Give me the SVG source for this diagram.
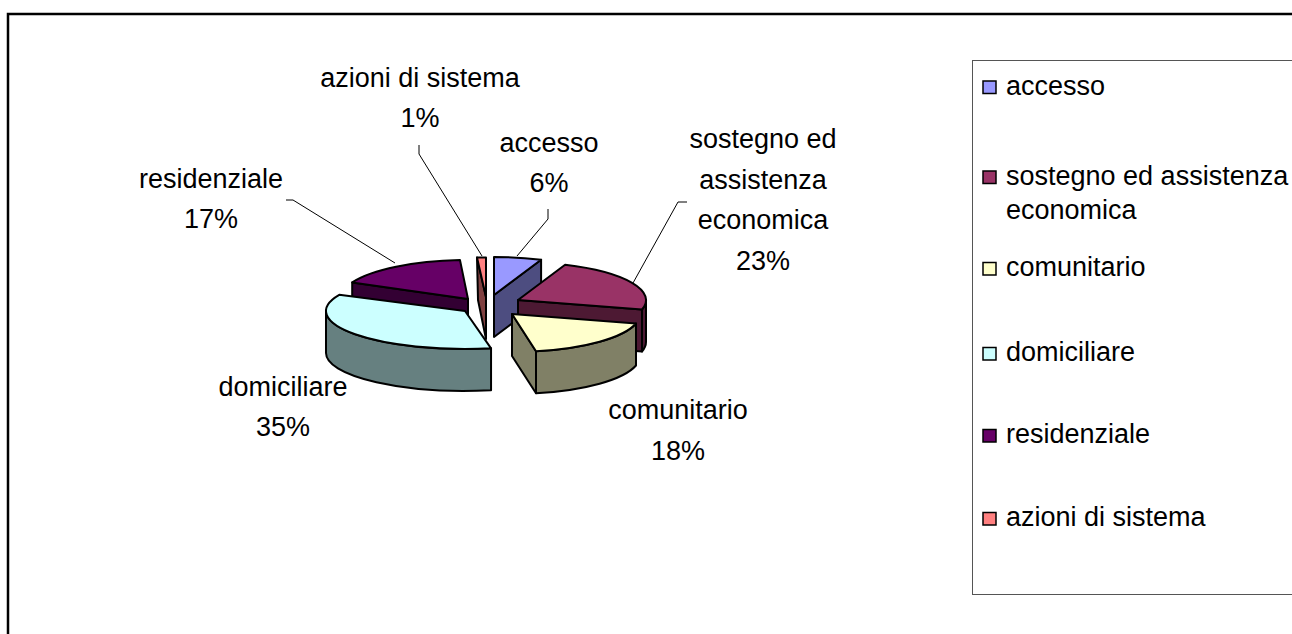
<svg xmlns="http://www.w3.org/2000/svg" width="1292" height="634" viewBox="0 0 1292 634">
<style>
text{font-family:"Liberation Sans",Arial,sans-serif;font-size:27px;fill:#000}
.lbl{text-anchor:middle}
.pie path{stroke:#000;stroke-width:2;stroke-linejoin:round}
.lead{fill:none;stroke:#000;stroke-width:1}
.sw{stroke:#000;stroke-width:1.5}
</style>
<rect width="1292" height="634" fill="#fff"/>
<rect x="8" y="14" width="1300" height="700" fill="#fff" stroke="#000" stroke-width="2.5"/>

<g class="pie">
  <g id="slice-residenziale">
    <path d="M468,299 L352.2,282.4 L352.2,324.4 L468,341 Z" fill="#330033"/>
    <path d="M468,299 L352.2,282.4 A128,39 0 0 1 460,260.1 Z" fill="#660066"/>
  </g>
  <g id="slice-azioni">
    <path d="M486,297 L477,257.5 L478,300 L486,339 Z" fill="#804040"/>
    <path d="M486,297 L477,257.5 L486,257.5 Z" fill="#FF8080"/>
  </g>
  <g id="slice-accesso">
    <path d="M494,295 L541.1,259.7 L541.1,301.7 L494,337 Z" fill="#4D4D80"/>
    <path d="M494,295 L494,257 A128,38 0 0 1 541.1,259.7 Z" fill="#9999FF"/>
  </g>
  <g id="slice-sostegno">
    <path d="M518,300 L642,309.5 L642,351.5 L518,342 Z" fill="#4D1933"/>
    <path d="M646,300 A128,38 0 0 1 642,309.5 L642,351.5 A128,38 0 0 0 646,342 Z" fill="#4D1933"/>
    <path d="M518,300 L565.1,264.7 A128,38 0 0 1 642,309.5 Z" fill="#993366"/>
  </g>
  <g id="slice-domiciliare">
    <path d="M491.05,348.33 A139,38 0 0 1 326,311 L326,353 A139,38 0 0 0 491.05,390.33 Z" fill="#668080"/>
    <path d="M465,311 L491.05,348.33 A139,38 0 0 1 339.23,294.82 Z" fill="#CCFFFF"/>
  </g>
  <g id="slice-comunitario">
    <path d="M512,314 L536,351.3 L536,393.3 L512,356 Z" fill="#808066"/>
    <path d="M636,323.5 A128,38 0 0 1 536,351.3 L536,393.3 A128,38 0 0 0 636,365.5 Z" fill="#808066"/>
    <path d="M512,314 L636,323.5 A128,38 0 0 1 536,351.3 Z" fill="#FFFFCC"/>
  </g>
</g>

<g id="connectors">
  <polyline class="lead" points="286,200 293,200 395,263"/>
  <polyline class="lead" points="419,145 419,154 482,256"/>
  <polyline class="lead" points="548,209 548,219 517,256"/>
  <polyline class="lead" points="687,202 678,202 633,283"/>
</g>

<g id="label-azioni"><text class="lbl" x="420" y="87">azioni di sistema</text><text class="lbl" x="420" y="127">1%</text></g>
<g id="label-accesso"><text class="lbl" x="549" y="152">accesso</text><text class="lbl" x="549" y="192">6%</text></g>
<g id="label-residenziale"><text class="lbl" x="211" y="188">residenziale</text><text class="lbl" x="211" y="228">17%</text></g>
<g id="label-sostegno"><text class="lbl" x="763" y="148">sostegno ed</text><text class="lbl" x="763" y="188.5">assistenza</text><text class="lbl" x="763" y="229">economica</text><text class="lbl" x="763" y="269.5">23%</text></g>
<g id="label-comunitario"><text class="lbl" x="678" y="419">comunitario</text><text class="lbl" x="678" y="459.5">18%</text></g>
<g id="label-domiciliare"><text class="lbl" x="283" y="396">domiciliare</text><text class="lbl" x="283" y="436">35%</text></g>

<g id="legend">
  <rect x="972.5" y="60.5" width="340" height="534" fill="#fff" stroke="#555" stroke-width="1"/>
  <g id="legend-accesso"><rect class="sw" x="983" y="81" width="13" height="12.5" fill="#9999FF"/><text x="1006" y="94.5">accesso</text></g>
  <g id="legend-sostegno"><rect class="sw" x="983" y="171" width="13" height="12.5" fill="#993366"/><text x="1006" y="184.5">sostegno ed assistenza</text><text x="1006" y="219">economica</text></g>
  <g id="legend-comunitario"><rect class="sw" x="983" y="262.5" width="13" height="12.5" fill="#FFFFCC"/><text x="1006" y="276">comunitario</text></g>
  <g id="legend-domiciliare"><rect class="sw" x="983" y="347.5" width="13" height="12.5" fill="#CCFFFF"/><text x="1006" y="361">domiciliare</text></g>
  <g id="legend-residenziale"><rect class="sw" x="983" y="429.5" width="13" height="12.5" fill="#660066"/><text x="1006" y="443">residenziale</text></g>
  <g id="legend-azioni"><rect class="sw" x="983" y="512.5" width="13" height="12.5" fill="#FF8080"/><text x="1006" y="526">azioni di sistema</text></g>
</g>
</svg>
